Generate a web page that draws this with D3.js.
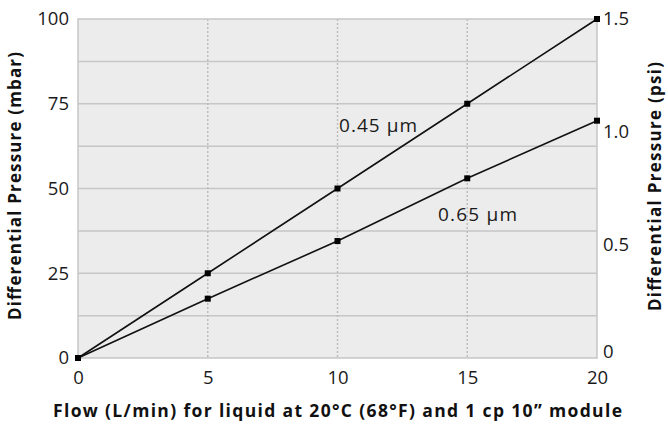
<!DOCTYPE html>
<html>
<head>
<meta charset="utf-8">
<script src="https://cdn.jsdelivr.net/npm/d3@7"></script>
<style>
  html, body { margin: 0; padding: 0; background: #fff; }
  svg { display: block; font-family: "Open Sans", sans-serif; }
</style>
</head>
<body>
<svg id="chart" width="668" height="424"></svg>
<script>
const flow = [0, 5, 10, 15, 20];
const dp045 = [0, 25, 50, 75, 100];
const dp065 = [0, 17.5, 34.5, 53, 70];
const xTicks = [0, 5, 10, 15, 20];
const yTicks = [0, 25, 50, 75, 100];
const yGrid = [12.5, 25, 37.5, 50, 62.5, 75, 87.5];
const psiTicks = [0, 0.5, 1.0, 1.5];
const seriesLabels = ["0.45 µm", "0.65 µm"];

const svg = d3.select("#chart");
const pL = 78, pR = 597, pT = 19, pB = 358;

const x = d3.scaleLinear().domain([0, 20]).range([pL, pR]);
const y = d3.scaleLinear().domain([0, 100]).range([pB, pT]);
const yPsi = d3.scaleLinear().domain([0, 1.5]).range([pB, pT]);

// plot background
svg.append("rect")
  .attr("x", pL).attr("y", pT)
  .attr("width", pR - pL).attr("height", pB - pT)
  .attr("fill", "#ececec");

// horizontal grid
svg.append("g").selectAll("line").data(yGrid).join("line")
  .attr("x1", pL).attr("x2", pR)
  .attr("y1", d => y(d)).attr("y2", d => y(d))
  .attr("stroke", "#c6c6c6").attr("stroke-width", 1.5);

// vertical dotted grid
svg.append("g").selectAll("line").data(xTicks.slice(1, -1)).join("line")
  .attr("x1", d => x(d)).attr("x2", d => x(d))
  .attr("y1", pT).attr("y2", pB)
  .attr("stroke", "#bcbcbc").attr("stroke-width", 1.5)
  .attr("stroke-dasharray", "2,2");

// border
svg.append("rect")
  .attr("x", pL).attr("y", pT)
  .attr("width", pR - pL).attr("height", pB - pT)
  .attr("fill", "none").attr("stroke", "#c6c6c6").attr("stroke-width", 1.5);

// axes
const tickColor = "#1a1a1a";
const gx = svg.append("g").attr("transform", `translate(0,${pB})`)
  .call(d3.axisBottom(x).tickValues(xTicks).tickSize(0).tickPadding(13));
const gy = svg.append("g").attr("transform", `translate(${pL},0)`)
  .call(d3.axisLeft(y).tickValues(yTicks).tickSize(0).tickPadding(9));
const gr = svg.append("g").attr("transform", `translate(${pR},0)`)
  .call(d3.axisRight(yPsi).tickValues(psiTicks).tickSize(0).tickPadding(6)
    .tickFormat(d => d === 0 ? "0" : d3.format(".1f")(d)));
[gx, gy, gr].forEach(g => {
  g.select(".domain").remove();
  g.selectAll("text").attr("font-size", 18.5).attr("fill", tickColor)
    .attr("font-family", "Open Sans, sans-serif");
});
gr.selectAll(".tick").filter(d => d === 0).select("text").attr("y", -6);

// lines
const line = d3.line().x(d => x(d[0])).y(d => y(d[1]));
[dp045, dp065].forEach(vals => {
  const pts = flow.map((f, i) => [f, vals[i]]);
  svg.append("path").datum(pts)
    .attr("d", line).attr("fill", "none")
    .attr("stroke", "#111").attr("stroke-width", 1.6);
  svg.append("g").selectAll("rect").data(pts).join("rect")
    .attr("x", d => x(d[0]) - 3).attr("y", d => y(d[1]) - 3)
    .attr("width", 6).attr("height", 6).attr("fill", "#000");
});

// series labels
svg.append("text").attr("x", 339).attr("y", 132)
  .attr("font-size", 19).attr("fill", "#1a1a1a")
  .attr("textLength", 78).attr("lengthAdjust", "spacing").text(seriesLabels[0]);
svg.append("text").attr("x", 438).attr("y", 221)
  .attr("font-size", 19).attr("fill", "#1a1a1a")
  .attr("textLength", 79).attr("lengthAdjust", "spacing").text(seriesLabels[1]);

// axis titles
svg.append("text")
  .attr("x", 53).attr("y", 417)
  .attr("font-size", 17.5).attr("font-weight", "bold").attr("fill", "#111")
  .attr("textLength", 569).attr("lengthAdjust", "spacing")
  .text("Flow (L/min) for liquid at 20°C (68°F) and 1 cp 10” module");

svg.append("text")
  .attr("transform", "translate(21,320) rotate(-90)")
  .attr("font-size", 17).attr("font-weight", "bold").attr("fill", "#111")
  .attr("textLength", 268).attr("lengthAdjust", "spacing")
  .text("Differential Pressure (mbar)");

svg.append("text")
  .attr("transform", "translate(661,311) rotate(-90)")
  .attr("font-size", 17).attr("font-weight", "bold").attr("fill", "#111")
  .attr("textLength", 249).attr("lengthAdjust", "spacing")
  .text("Differential Pressure (psi)");
</script>
</body>
</html>
